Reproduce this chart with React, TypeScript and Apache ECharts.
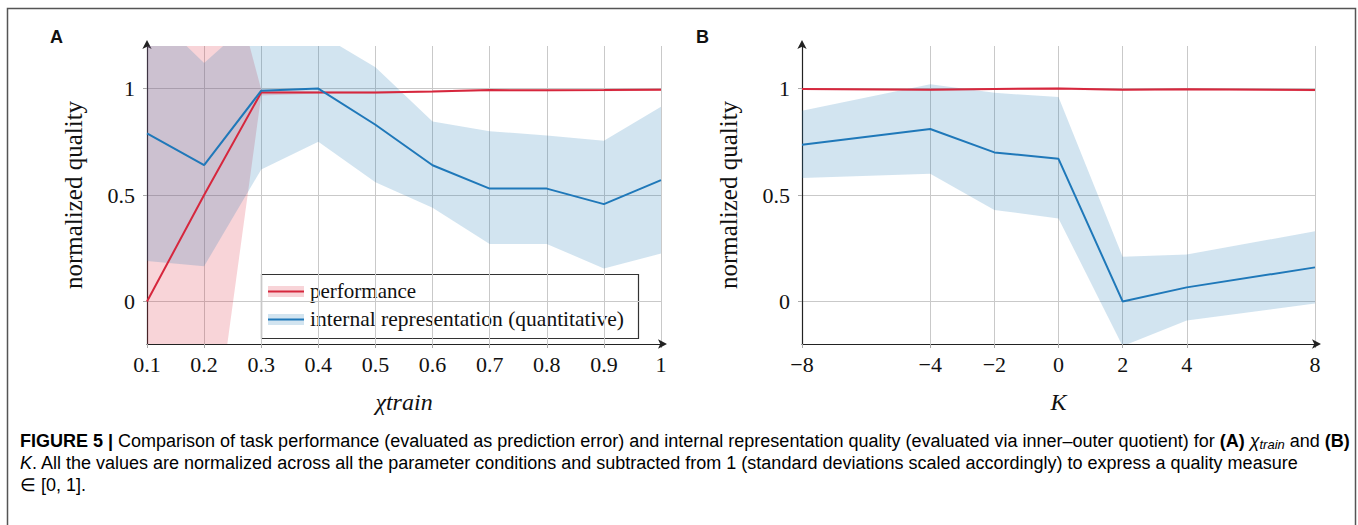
import React, { useEffect, useRef } from 'react';
import * as echarts from 'echarts';

// Panel A: chi_train
const xTrain = [0.1, 0.2, 0.3, 0.4, 0.5, 0.6, 0.7, 0.8, 0.9, 1.0];
const perfA = [0.0, 0.5, 0.982, 0.982, 0.981, 0.986, 0.993, 0.992, 0.993, 0.995];
const perfALow = [-1.3, -1.0, 0.968, 0.977, 0.976, 0.981, 0.988, 0.987, 0.988, 0.99];
const perfAHigh = [1.3, 2.0, 0.996, 0.987, 0.986, 0.991, 0.998, 0.997, 0.998, 1.0];
const reprA = [0.79, 0.64, 0.99, 1.0, 0.83, 0.64, 0.53, 0.53, 0.457, 0.57];
const reprALow = [0.19, 0.165, 0.62, 0.75, 0.56, 0.44, 0.27, 0.27, 0.155, 0.225];
const reprAHigh = [1.38, 1.12, 1.36, 1.26, 1.1, 0.845, 0.8, 0.78, 0.755, 0.915];

// Panel B: K
const kValues = [-8, -4, -2, 0, 2, 4, 8];
const perfB = [0.998, 0.995, 0.998, 1.0, 0.995, 0.997, 0.993];
const perfBLow = [0.993, 0.99, 0.993, 0.995, 0.99, 0.992, 0.988];
const perfBHigh = [1.003, 1.0, 1.003, 1.005, 1.0, 1.002, 0.998];
const reprB = [0.736, 0.81, 0.7, 0.67, 0.0, 0.066, 0.16];
const reprBLow = [0.58, 0.6, 0.43, 0.39, -0.21, -0.09, -0.01];
const reprBHigh = [0.896, 1.02, 0.98, 0.96, 0.21, 0.22, 0.33];

const yTicks = [0, 0.5, 1];

const RED = 'rgb(214,39,61)';
const BLUE = 'rgb(31,120,185)';
const PINK_FILL = 'rgba(220,40,60,0.2)';
const BLUE_FILL = 'rgba(31,119,180,0.2)';
const SERIF = '"Liberation Serif", "DejaVu Serif", serif';
const SANS = '"Liberation Sans", Arial, sans-serif';

const pairs = (xs: number[], ys: number[]) => xs.map((x, i) => [x, ys[i]]);

function band(name: string, idx: number, xs: number[], lo: number[], hi: number[], fill: string) {
  return {
    type: 'custom', name, xAxisIndex: idx, yAxisIndex: idx, silent: true, z: 1,
    clip: true,
    data: [[xs[0], lo[0]]],
    encode: { x: 0, y: 1 },
    renderItem: (params: any, api: any) => {
      const upper = xs.map((x, i) => api.coord([x, hi[i]]));
      const lower = xs.map((x, i) => api.coord([x, lo[i]])).reverse();
      const cs = params.coordSys;
      return {
        type: 'polygon',
        shape: { points: upper.concat(lower) },
        style: { fill, stroke: 'none' },
        clipPath: { type: 'rect', shape: { x: cs.x, y: cs.y, width: cs.width, height: cs.height } },
      };
    },
  };
}

function lineSeries(name: string, idx: number, xs: number[], ys: number[], color: string, z: number) {
  return {
    type: 'line', name, xAxisIndex: idx, yAxisIndex: idx, data: pairs(xs, ys),
    symbol: 'none', lineStyle: { color, width: 2 }, itemStyle: { color }, z,
  };
}

const fmtNum = (v: number) => String(+Number(v).toFixed(2));

function xAxisCfg(idx: number, min: number, max: number, ticks: number[], name: string) {
  return {
    type: 'value', gridIndex: idx, min, max,
    axisLine: { onZero: false, lineStyle: { color: '#222', width: 1.2 }, symbol: ['none', 'arrow'], symbolSize: [7, 9], symbolOffset: [0, 6] },
    axisTick: { show: true, customValues: ticks, length: 4, lineStyle: { color: '#aaa' } },
    axisLabel: { customValues: ticks, formatter: (v: number) => fmtNum(v).replace('-', '\u2212'), fontFamily: SERIF, fontSize: 22, color: '#111', margin: 9 },
    splitLine: { show: true, lineStyle: { color: '#c9c9c9', width: 1 } },
    name, nameLocation: 'middle', nameGap: 46,
    nameTextStyle: { fontFamily: SERIF, fontStyle: 'italic', fontSize: 24, color: '#111' },
  };
}

function yAxisCfg(idx: number) {
  return {
    type: 'value', gridIndex: idx, min: -0.2, max: 1.2,
    axisLine: { onZero: false, show: true, lineStyle: { color: '#222', width: 1.2 }, symbol: ['none', 'arrow'], symbolSize: [7, 9], symbolOffset: [0, 6] },
    axisTick: { show: true, customValues: yTicks, length: 4, lineStyle: { color: '#aaa' } },
    axisLabel: { customValues: yTicks, formatter: (v: number) => fmtNum(v), fontFamily: SERIF, fontSize: 22, color: '#111', margin: 12 },
    splitLine: { show: true, lineStyle: { color: '#c9c9c9', width: 1 } },
    name: 'normalized quality', nameLocation: 'middle', nameGap: 61, nameRotate: 90,
    nameTextStyle: { fontFamily: SERIF, fontSize: 25, color: '#111' },
  };
}

export default function App() {
  const ref = useRef<HTMLDivElement>(null);
  useEffect(() => {
    if (!ref.current) return;
    const chart = echarts.init(ref.current, undefined, { renderer: 'svg' });
    const captionRich = {
      b: { fontFamily: SANS, fontWeight: 'bold', fontSize: 18, color: '#111' },
      n: { fontFamily: SANS, fontSize: 18, color: '#333' },
      i: { fontFamily: SANS, fontStyle: 'italic', fontSize: 18, color: '#333' },
      s: { fontFamily: SANS, fontStyle: 'italic', fontSize: 13, color: '#333', padding: [7, 0, 0, 0] },
    };
    chart.setOption({
      animation: false,
      backgroundColor: '#fff',
      grid: [
        { left: 147, top: 46, width: 514, height: 298 },
        { left: 802, top: 46, width: 513, height: 298 },
      ],
      xAxis: [
        xAxisCfg(0, 0.1, 1, xTrain, 'χtrain'),
        xAxisCfg(1, -8, 8, kValues, 'K'),
      ],
      yAxis: [yAxisCfg(0), yAxisCfg(1)],
      series: [
        band('perfA-band', 0, xTrain, perfALow, perfAHigh, PINK_FILL),
        band('reprA-band', 0, xTrain, reprALow, reprAHigh, BLUE_FILL),
        lineSeries('performance', 0, xTrain, perfA, RED, 3),
        lineSeries('internal representation (quantitative)', 0, xTrain, reprA, BLUE, 4),
        band('perfB-band', 1, kValues, perfBLow, perfBHigh, PINK_FILL),
        band('reprB-band', 1, kValues, reprBLow, reprBHigh, BLUE_FILL),
        lineSeries('performance B', 1, kValues, perfB, RED, 3),
        lineSeries('internal representation B', 1, kValues, reprB, BLUE, 4),
      ],
      graphic: [
        { type: 'rect', shape: { x: 7.5, y: 8.5, width: 1348, height: 540 }, style: { fill: 'none', stroke: '#555', lineWidth: 1.5 }, silent: true },
        { type: 'text', x: 50, y: 28, style: { text: 'A', fontFamily: SANS, fontWeight: 'bold', fontSize: 18, fill: '#111' } },
        { type: 'text', x: 696, y: 28, style: { text: 'B', fontFamily: SANS, fontWeight: 'bold', fontSize: 18, fill: '#111' } },
        // legend
        {
          type: 'group', x: 261, y: 274, z: 100,
          children: [
            { type: 'rect', shape: { x: 0.5, y: 0.5, width: 377, height: 64 }, style: { fill: '#fff', stroke: '#333', lineWidth: 1.2 } },
            { type: 'rect', shape: { x: 7, y: 12, width: 36, height: 11 }, style: { fill: PINK_FILL } },
            { type: 'line', shape: { x1: 7, y1: 17.5, x2: 43, y2: 17.5 }, style: { stroke: RED, lineWidth: 2 } },
            { type: 'text', x: 49, y: 17, style: { text: 'performance', fontFamily: SERIF, fontSize: 21, fill: '#111', verticalAlign: 'middle' } },
            { type: 'rect', shape: { x: 7, y: 40, width: 36, height: 11 }, style: { fill: BLUE_FILL } },
            { type: 'line', shape: { x1: 7, y1: 45.5, x2: 43, y2: 45.5 }, style: { stroke: BLUE, lineWidth: 2 } },
            { type: 'text', x: 49, y: 45, style: { text: 'internal representation (quantitative)', fontFamily: SERIF, fontSize: 21.5, fill: '#111', verticalAlign: 'middle' } },
          ],
        },
        // caption
        {
          type: 'text', x: 20, y: 441,
          style: {
            text: '{b|FIGURE 5 |}{n| Comparison of task performance (evaluated as prediction error) and internal representation quality (evaluated via inner–outer quotient) for }{b|(A)}{n| }{i|χ}{s|train}{n| and }{b|(B)}',
            rich: captionRich, verticalAlign: 'middle',
          },
        },
        {
          type: 'text', x: 20, y: 463,
          style: {
            text: '{i|K}{n|. All the values are normalized across all the parameter conditions and subtracted from 1 (standard deviations scaled accordingly) to express a quality measure}',
            rich: captionRich, verticalAlign: 'middle',
          },
        },
        {
          type: 'text', x: 20, y: 485,
          style: { text: '{n|∈ [0, 1].}', rich: captionRich, verticalAlign: 'middle' },
        },
      ],
    });
    return () => chart.dispose();
  }, []);
  return <div ref={ref} style={{ position: 'absolute', left: 0, top: 0, width: 1358, height: 525 }} />;
}
